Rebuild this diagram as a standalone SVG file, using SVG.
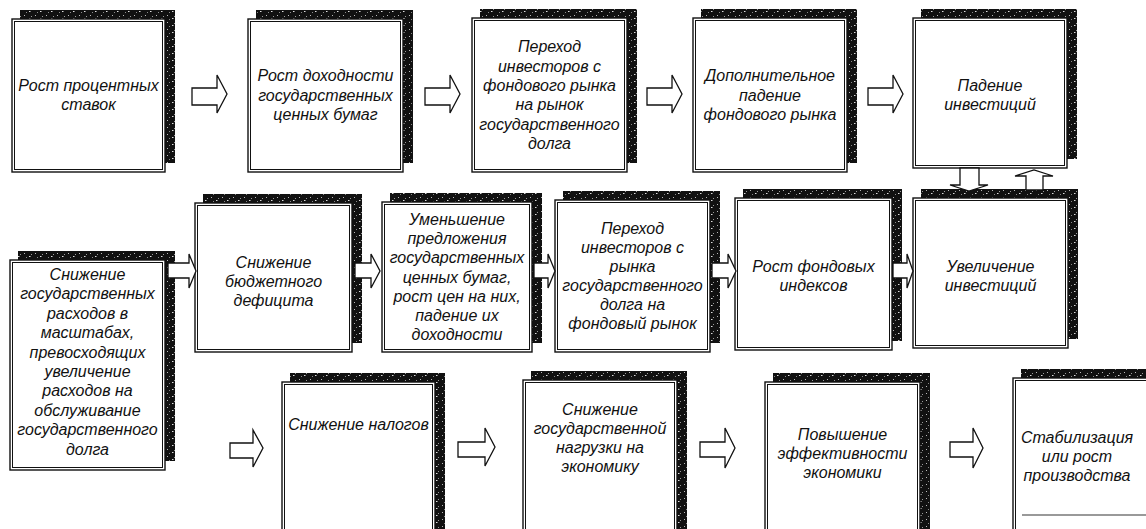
<svg xmlns="http://www.w3.org/2000/svg" width="1146" height="529" viewBox="0 0 1146 529">
<defs>
<pattern id="speck" width="11" height="7" patternUnits="userSpaceOnUse">
<rect width="11" height="7" fill="#111"/>
<rect x="2" y="1" width="1" height="1" fill="#bbb"/>
<rect x="7" y="4" width="1.5" height="1" fill="#ddd"/>
<rect x="4" y="5" width="1" height="1" fill="#888"/>
<rect x="9" y="2" width="1" height="1" fill="#999"/>
</pattern>
</defs>
<style>
.shadow{fill:url(#speck);}
.frame{fill:#fff;stroke:#111;stroke-width:1.4;}
.inner{fill:none;stroke:#111;stroke-width:1;}
.txt{font-family:"Liberation Sans",Arial,sans-serif;font-style:italic;font-size:16px;fill:#111;text-anchor:middle;}
.arrow{fill:#fff;stroke:#111;stroke-width:1.3;stroke-linejoin:miter;}
</style>
<rect width="1146" height="529" fill="#fff"/>

<g id="n-rost-stavok">
<rect class="shadow" x="20" y="10" width="155" height="153"/>
<rect class="frame" x="12" y="19" width="153" height="153"/>
<rect class="inner" x="14.5" y="21.5" width="148" height="148"/>
<text class="txt" x="88.5"><tspan x="88.5" y="90.9">Рост процентных</tspan><tspan x="88.5" y="110.3">ставок</tspan></text>
</g>
<g id="n-rost-dohodnosti">
<rect class="shadow" x="256" y="10" width="157" height="153"/>
<rect class="frame" x="248" y="19" width="155" height="153"/>
<rect class="inner" x="250.5" y="21.5" width="150" height="148"/>
<text class="txt"><tspan x="325.5" y="81.2">Рост доходности</tspan><tspan x="325.5" y="100.6">государственных</tspan><tspan x="325.5" y="120">ценных бумаг</tspan></text>
</g>
<g id="n-perehod-1">
<rect class="shadow" x="480" y="9" width="157" height="154"/>
<rect class="frame" x="472" y="18" width="155" height="154"/>
<rect class="inner" x="474.5" y="20.5" width="150" height="149"/>
<text class="txt"><tspan x="549.5" y="52.1">Переход</tspan><tspan x="549.5" y="71.5">инвесторов с</tspan><tspan x="549.5" y="90.9">фондового рынка</tspan><tspan x="549.5" y="110.3">на рынок</tspan><tspan x="549.5" y="129.7">государственного</tspan><tspan x="549.5" y="149.1">долга</tspan></text>
</g>
<g id="n-dop-padenie">
<rect class="shadow" x="701" y="9" width="156" height="154"/>
<rect class="frame" x="693" y="18" width="154" height="154"/>
<rect class="inner" x="695.5" y="20.5" width="149" height="149"/>
<text class="txt"><tspan x="770" y="81.2">Дополнительное</tspan><tspan x="770" y="100.6">падение</tspan><tspan x="770" y="120">фондового рынка</tspan></text>
</g>
<g id="n-padenie-inv">
<rect class="shadow" x="921" y="9" width="156" height="150"/>
<rect class="frame" x="913" y="18" width="154" height="150"/>
<rect class="inner" x="915.5" y="20.5" width="149" height="145"/>
<text class="txt"><tspan x="990" y="90.9">Падение</tspan><tspan x="990" y="110.3">инвестиций</tspan></text>
</g>

<g id="n-snizhenie-rashodov">
<rect class="shadow" x="18" y="251" width="157" height="210"/>
<rect class="frame" x="10" y="260" width="155" height="210"/>
<rect class="inner" x="12.5" y="262.5" width="150" height="205"/>
<text class="txt"><tspan x="87.5" y="280">Снижение</tspan><tspan x="87.5" y="299.4">государственных</tspan><tspan x="87.5" y="318.8">расходов в</tspan><tspan x="87.5" y="338.2">масштабах,</tspan><tspan x="87.5" y="357.6">превосходящих</tspan><tspan x="87.5" y="377">увеличение</tspan><tspan x="87.5" y="396.4">расходов на</tspan><tspan x="87.5" y="415.8">обслуживание</tspan><tspan x="87.5" y="435.2">государственного</tspan><tspan x="87.5" y="454.6">долга</tspan></text>
</g>
<g id="n-deficit">
<rect class="shadow" x="203" y="194" width="159" height="149"/>
<rect class="frame" x="195" y="203" width="157" height="149"/>
<rect class="inner" x="197.5" y="205.5" width="152" height="144"/>
<text class="txt"><tspan x="273.5" y="267.5">Снижение</tspan><tspan x="273.5" y="286.9">бюджетного</tspan><tspan x="273.5" y="306.3">дефицита</tspan></text>
</g>
<g id="n-umenshenie">
<rect class="shadow" x="390" y="193" width="152" height="150"/>
<rect class="frame" x="382" y="202" width="150" height="150"/>
<rect class="inner" x="384.5" y="204.5" width="145" height="145"/>
<text class="txt"><tspan x="457" y="225">Уменьшение</tspan><tspan x="457" y="244.2">предложения</tspan><tspan x="457" y="263.4">государственных</tspan><tspan x="457" y="282.6">ценных бумаг,</tspan><tspan x="457" y="301.8">рост цен на них,</tspan><tspan x="457" y="321">падение их</tspan><tspan x="457" y="340.2">доходности</tspan></text>
</g>
<g id="n-perehod-2">
<rect class="shadow" x="563" y="191" width="157" height="152"/>
<rect class="frame" x="555" y="200" width="155" height="152"/>
<rect class="inner" x="557.5" y="202.5" width="150" height="147"/>
<text class="txt"><tspan x="632.5" y="234">Переход</tspan><tspan x="632.5" y="253">инвесторов с</tspan><tspan x="632.5" y="272">рынка</tspan><tspan x="632.5" y="291">государственного</tspan><tspan x="632.5" y="310">долга на</tspan><tspan x="632.5" y="329">фондовый рынок</tspan></text>
</g>
<g id="n-rost-indeksov">
<rect class="shadow" x="743" y="189" width="159" height="152"/>
<rect class="frame" x="735" y="198" width="157" height="152"/>
<rect class="inner" x="737.5" y="200.5" width="152" height="147"/>
<text class="txt"><tspan x="813.5" y="272">Рост фондовых</tspan><tspan x="813.5" y="291">индексов</tspan></text>
</g>
<g id="n-uvelichenie-inv">
<rect class="shadow" x="921" y="189" width="157" height="150"/>
<rect class="frame" x="913" y="198" width="155" height="150"/>
<rect class="inner" x="915.5" y="200.5" width="150" height="145"/>
<text class="txt"><tspan x="990.5" y="272">Увеличение</tspan><tspan x="990.5" y="291">инвестиций</tspan></text>
</g>

<g id="n-nalogi">
<rect class="shadow" x="290" y="373" width="155" height="170"/>
<rect class="frame" x="282" y="382" width="153" height="170"/>
<rect class="inner" x="284.5" y="384.5" width="148" height="165"/>
<text class="txt"><tspan x="358.5" y="430">Снижение налогов</tspan></text>
</g>
<g id="n-nagruzka">
<rect class="shadow" x="531" y="371" width="156" height="170"/>
<rect class="frame" x="523" y="380" width="154" height="170"/>
<rect class="inner" x="525.5" y="382.5" width="149" height="165"/>
<text class="txt"><tspan x="600" y="415">Снижение</tspan><tspan x="600" y="434">государственной</tspan><tspan x="600" y="453">нагрузки на</tspan><tspan x="600" y="472">экономику</tspan></text>
</g>
<g id="n-effektivnost">
<rect class="shadow" x="773" y="373" width="157" height="170"/>
<rect class="frame" x="765" y="382" width="155" height="170"/>
<rect class="inner" x="767.5" y="384.5" width="150" height="165"/>
<text class="txt"><tspan x="842.5" y="440">Повышение</tspan><tspan x="842.5" y="459">эффективности</tspan><tspan x="842.5" y="478">экономики</tspan></text>
</g>
<g id="n-stabilizaciya">
<rect class="shadow" x="1021" y="369" width="157" height="170"/>
<rect class="frame" x="1013" y="378" width="155" height="170"/>
<rect class="inner" x="1015.5" y="380.5" width="150" height="165"/>
<line x1="1022" y1="515" x2="1146" y2="515" stroke="#999" stroke-width="2"/>
<text class="txt"><tspan x="1077" y="443">Стабилизация</tspan><tspan x="1077" y="462">или рост</tspan><tspan x="1077" y="481">производства</tspan></text>
</g>

<g id="connectors">
<path class="arrow" d="M192,88 H217 V75 L227,94 L217,113 V105 H192 Z"/>
<path class="arrow" d="M425,88 H450 V75 L460,94 L450,113 V105 H425 Z"/>
<path class="arrow" d="M647,88 H672 V75 L682,94 L672,113 V105 H647 Z"/>
<path class="arrow" d="M868,88 H893 V75 L903,94 L893,113 V105 H868 Z"/>

<path class="arrow" d="M168,263 H189 V254 L196,271 L189,288 V278 H168 Z"/>
<path class="arrow" d="M355,263 H371 V254 L380,271 L371,288 V278 H355 Z"/>
<path class="arrow" d="M534,263 H548 V254 L555,271 L548,288 V278 H534 Z"/>
<path class="arrow" d="M712,263 H728 V254 L736,271 L728,288 V278 H712 Z"/>
<path class="arrow" d="M893,263 H907 V254 L913,271 L907,288 V278 H893 Z"/>

<path class="arrow" d="M960,168 V185 H950 L969,191 L988,185 H979 V168 Z"/>
<path class="arrow" d="M1026,190 V176 H1015 L1034,170 L1053,176 H1043 V190 Z"/>

<path class="arrow" d="M230,443 H253 V430 L263,448 L253,467 V458 H230 Z"/>
<path class="arrow" d="M458,442 H485 V428 L495,447 L485,466 V457 H458 Z"/>
<path class="arrow" d="M700,442 H725 V428 L735,448 L725,468 V457 H700 Z"/>
<path class="arrow" d="M950,442 H973 V428 L983,448 L973,468 V457 H950 Z"/>
</g>
</svg>
